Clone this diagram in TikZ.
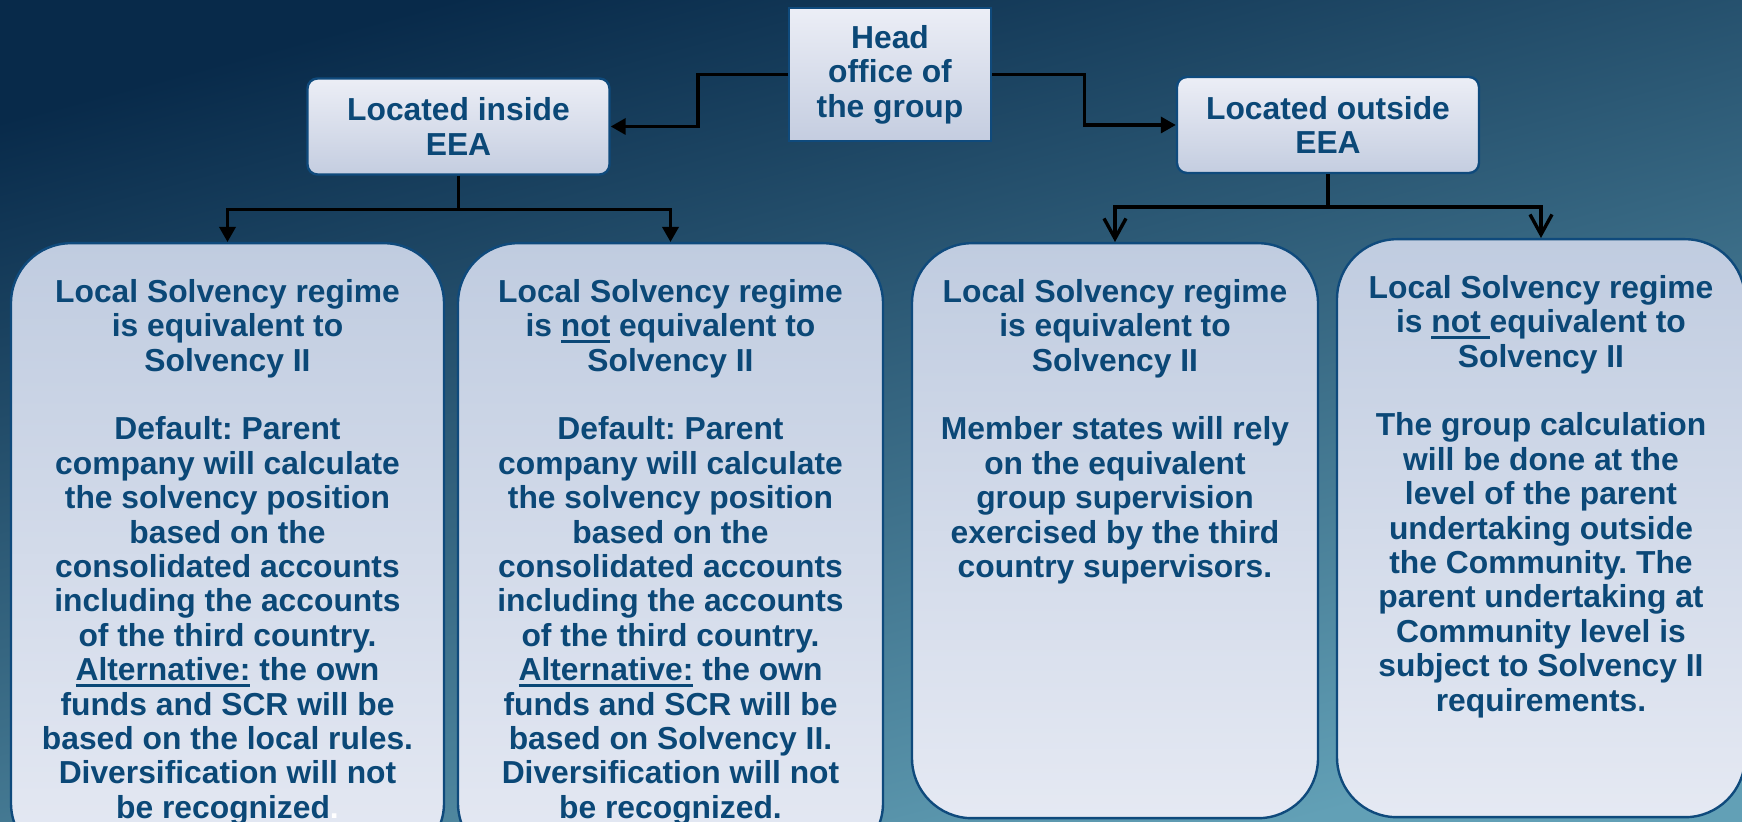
\documentclass[tikz,border=0pt]{standalone}
\usepackage{fontspec}
\setmainfont{Liberation Sans}
\usetikzlibrary{arrows.meta}
\definecolor{bgtop}{HTML}{082A4A}
\definecolor{bgmiddle}{HTML}{22618A}
\definecolor{bgbottom}{HTML}{62A0B6}
\definecolor{boxtop}{HTML}{C0CCE0}
\definecolor{boxbottom}{HTML}{E5E9F3}
\definecolor{labeltop}{HTML}{ECEEF6}
\definecolor{labelbottom}{HTML}{C4CDE0}
\definecolor{boxedge}{HTML}{0F4A7C}
\definecolor{textblue}{HTML}{0B4877}
\frenchspacing
\def\ulfat#1{\leavevmode\setbox0\hbox{#1}\rlap{\rule[-3pt]{\wd0}{1.3pt}}\box0\relax}
\def\boxtext#1#2#3{\parbox[c][#2][t]{#1}{\centering\vspace*{18pt}#3\par}}

\begin{document}
\begin{tikzpicture}[x=0.5pt,y=-0.5pt,
		txt/.style={text=textblue, font=\fontsize{15.9pt}{17.2pt}\selectfont\bfseries},
		headbox/.style={txt, draw=boxedge, line width=1.2pt, top color=labeltop, bottom color=labelbottom, align=center, inner sep=0pt},
		labelbox/.style={headbox, rounded corners=5pt, minimum width=151pt, minimum height=48pt},
		solvbox/.style={txt, anchor=north, draw=boxedge, line width=1.2pt, rounded corners=30pt, top color=boxtop, bottom color=boxbottom, inner sep=0pt},
		elbow/.style={draw=black, line width=1.7pt},
		solid tip/.style={elbow, -{Triangle[length=7.5pt,width=8pt]}},
		open tip/.style={elbow, -{Straight Barb[length=10pt,width=11pt]}}]
		%%%%% START %%%%%
		\useasboundingbox (0,0) rectangle (1742,822);
		\clip (0,0) rectangle (1742,822);
		\fill[top color=bgtop, middle color=bgmiddle, bottom color=bgbottom, shading angle=15] (0,0) rectangle (1742,822);
		
		\node[headbox, minimum width=101pt, minimum height=66.5pt] (head) at (890,74.5) {Head\\office of\\the group};
		\node[labelbox] (inside) at (458.5,126.5) {Located inside\\EEA};
		\node[labelbox] (outside) at (1328,125) {Located outside\\EEA};
		
		\node[solvbox, minimum width=216.5pt] (regin) at (227.5,242) {\boxtext{216.5pt}{310pt}{Local Solvency regime\\
			is equivalent to\\
			Solvency II\\[17.2pt]
			Default: Parent\\
			company will calculate\\
			the solvency position\\
			based on the\\
			consolidated accounts\\
			including the accounts\\
			of the third country.\\
			\ulfat{Alternative:} the own\\
			funds and SCR will be\\
			based on the local rules.\\
			Diversification will not\\
			be recognized\textcolor{white}{.}}};
		\node[solvbox, minimum width=212.5pt] (notin) at (670.5,242) {\boxtext{212.5pt}{310pt}{Local Solvency regime\\
			is \ulfat{not} equivalent to\\
			Solvency II\\[17.2pt]
			Default: Parent\\
			company will calculate\\
			the solvency position\\
			based on the\\
			consolidated accounts\\
			including the accounts\\
			of the third country.\\
			\ulfat{Alternative:} the own\\
			funds and SCR will be\\
			based on Solvency II.\\
			Diversification will not\\
			be recognized.}};
		\node[solvbox, minimum width=203pt] (regout) at (1115,242) {\boxtext{203pt}{287.5pt}{Local Solvency regime\\
			is equivalent to\\
			Solvency II\\[17.2pt]
			Member states will rely\\
			on the equivalent\\
			group supervision\\
			exercised by the third\\
			country supervisors.}};
		\node[solvbox, minimum width=204pt] (notout) at (1541,238) {\boxtext{204pt}{289pt}{Local Solvency regime\\
			is \ulfat{not }equivalent to\\
			Solvency II\\[17.2pt]
			The group calculation\\
			will be done at the\\
			level of the parent\\
			undertaking outside\\
			the Community. The\\
			parent undertaking at\\
			Community level is\\
			subject to Solvency II\\
			requirements.}};
		
		\draw[solid tip] (head.west) -- ++(-90,0) |- (inside.east);
		\draw[solid tip] (head.east) -- ++(92,0) |- (outside.west);
		\draw[solid tip] (inside.south) -- ++(0,34) coordinate (insplit) -| (regin.north);
		\draw[solid tip] (insplit) -| (notin.north);
		\draw[open tip] (outside.south) -- ++(0,33) coordinate (outsplit) -| (regout.north);
		\draw[open tip] (outsplit) -| (notout.north);
		%%%%% END %%%%%
\end{tikzpicture}
\end{document}
